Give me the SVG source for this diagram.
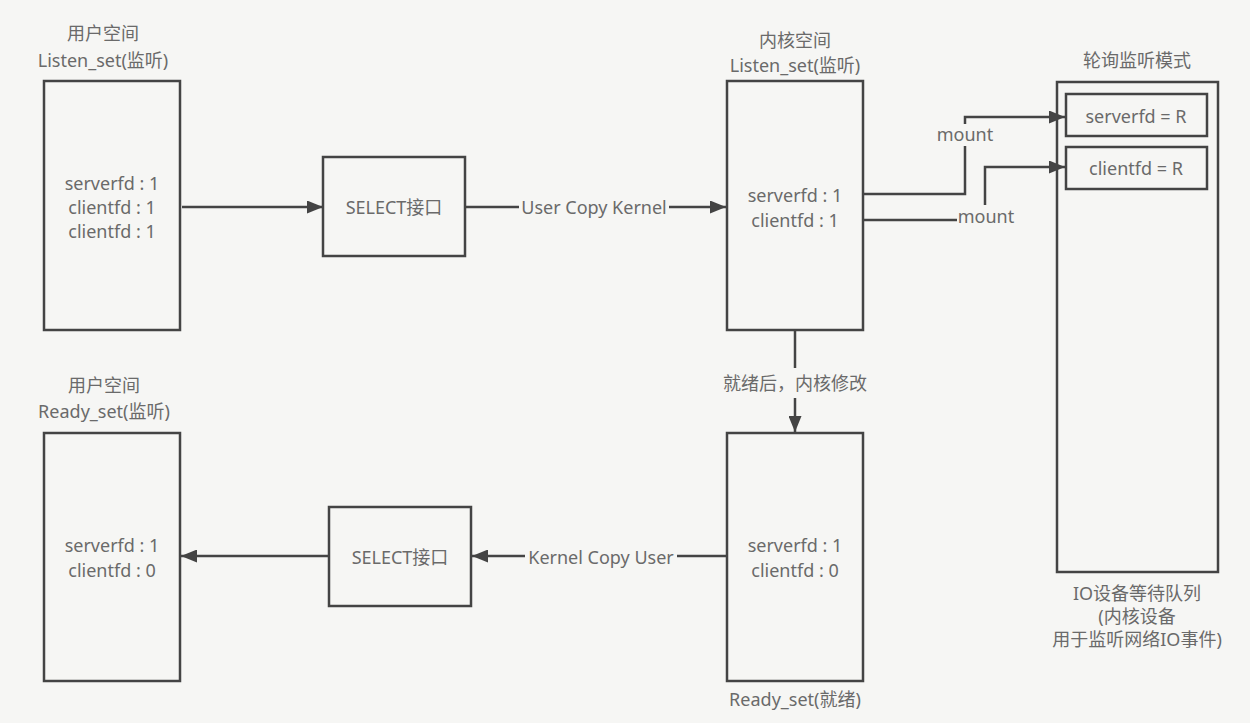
<svg xmlns="http://www.w3.org/2000/svg" width="1250" height="723" viewBox="0 0 1250 723">
<style>
.box{fill:none;stroke:#444;stroke-width:2.5}
.t{font-family:"Noto Sans","Noto Sans CJK SC",sans-serif;font-size:18px;fill:#6a6a6a;text-anchor:middle;dominant-baseline:central}
.ln{fill:none;stroke:#444;stroke-width:2.5}
.lb{fill:#f6f6f4}
</style>
<defs>
<marker id="ah" viewBox="0 0 16 13" refX="16" refY="6.5" markerWidth="16" markerHeight="13" markerUnits="userSpaceOnUse" orient="auto">
<path d="M0,0 L16,6.5 L0,13 z" fill="#444"/>
</marker>
</defs>
<rect width="1250" height="723" fill="#f6f6f4"/>

<g id="user-listen">
<text class="t" x="103" y="33">用户空间</text>
<text class="t" x="103" y="60">Listen_set(监听)</text>
<rect class="box" x="44" y="81" width="136" height="249"/>
<text class="t" x="112" y="183">serverfd : 1</text>
<text class="t" x="112" y="207">clientfd : 1</text>
<text class="t" x="112" y="231">clientfd : 1</text>
</g>

<g id="select-top">
<rect class="box" x="323" y="157" width="142" height="99"/>
<text class="t" x="394" y="207">SELECT接口</text>
</g>

<g id="kernel-listen">
<text class="t" x="795" y="40">内核空间</text>
<text class="t" x="795" y="65">Listen_set(监听)</text>
<rect class="box" x="727" y="81" width="136" height="249"/>
<text class="t" x="795" y="195">serverfd : 1</text>
<text class="t" x="795" y="220">clientfd : 1</text>
</g>

<g id="io-queue">
<text class="t" x="1137" y="60">轮询监听模式</text>
<rect class="box" x="1057" y="82" width="161" height="490"/>
<text class="t" x="1137" y="593">IO设备等待队列</text>
<text class="t" x="1137" y="616">(内核设备</text>
<text class="t" x="1137" y="639">用于监听网络IO事件)</text>
</g>

<g id="serverfd-r">
<rect class="box" x="1066" y="94" width="141" height="42"/>
<text class="t" x="1136" y="116">serverfd = R</text>
</g>

<g id="clientfd-r">
<rect class="box" x="1066" y="147" width="141" height="42"/>
<text class="t" x="1136" y="168">clientfd = R</text>
</g>

<g id="user-ready">
<text class="t" x="104" y="385">用户空间</text>
<text class="t" x="104" y="411">Ready_set(监听)</text>
<rect class="box" x="44" y="433" width="136" height="248"/>
<text class="t" x="112" y="545">serverfd : 1</text>
<text class="t" x="112" y="570">clientfd : 0</text>
</g>

<g id="select-bottom">
<rect class="box" x="329" y="507" width="142" height="99"/>
<text class="t" x="400" y="557">SELECT接口</text>
</g>

<g id="kernel-ready">
<rect class="box" x="727" y="433" width="136" height="248"/>
<text class="t" x="795" y="545">serverfd : 1</text>
<text class="t" x="795" y="570">clientfd : 0</text>
<text class="t" x="795" y="699">Ready_set(就绪)</text>
</g>

<g id="connectors">
<path class="ln" d="M182,207 L323,207" marker-end="url(#ah)"/>
<path class="ln" d="M465,207 L726,207" marker-end="url(#ah)"/>
<rect class="lb" x="519" y="196" width="150" height="22"/>
<text class="t" x="594" y="207">User Copy Kernel</text>

<path class="ln" d="M863,194 L965,194 L965,117 L1065,117" marker-end="url(#ah)"/>
<rect class="lb" x="937" y="124" width="56" height="22"/>
<text class="t" x="965" y="134">mount</text>

<path class="ln" d="M863,220 L985,220 L985,167 L1065,167" marker-end="url(#ah)"/>
<rect class="lb" x="957" y="205" width="57" height="22"/>
<text class="t" x="986" y="216">mount</text>

<path class="ln" d="M795,330 L795,432" marker-end="url(#ah)"/>
<rect class="lb" x="722" y="368" width="146" height="30"/>
<text class="t" x="795" y="383">就绪后，内核修改</text>

<path class="ln" d="M727,556 L472,556" marker-end="url(#ah)"/>
<rect class="lb" x="525" y="545" width="152" height="22"/>
<text class="t" x="601" y="557">Kernel Copy User</text>

<path class="ln" d="M329,556 L181,556" marker-end="url(#ah)"/>
</g>
</svg>
